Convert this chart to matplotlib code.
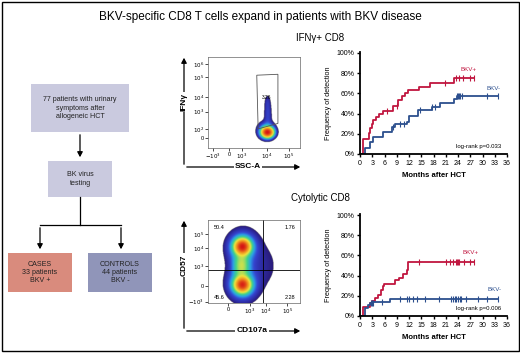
import numpy as np
import matplotlib
matplotlib.use('Agg')
import matplotlib.pyplot as plt
from matplotlib.patches import Rectangle, Polygon, FancyArrowPatch
from matplotlib.colors import LinearSegmentedColormap

plt.rcParams['font.family'] = ['Liberation Sans', 'DejaVu Sans']

W, H = 520, 353

# Kaplan-Meier data (months, cumulative % detected)
ifn_red_t = [0, 0.8, 2.2, 2.5, 2.9, 3.3, 3.9, 4.7, 5.6, 8.2, 9.2, 10.2, 11.0, 11.8, 14.5, 17.2, 23.1]
ifn_red_y = [0, 15, 21, 26, 30, 34, 37, 40, 43, 48, 53, 57, 60, 63, 66, 70.5, 75.5]
ifn_red_end = 27.8
ifn_red_cens = [6.6, 9.0, 20.8, 23.5, 24.3, 25.2, 27.0, 27.8]

ifn_blue_t = [0, 1.2, 2.45, 3.3, 5.7, 7.8, 8.6, 11.4, 12.1, 14.3, 17.6, 19.6, 23.1, 23.7]
ifn_blue_y = [0, 5.6, 12, 17, 22, 26.5, 30, 31.5, 38, 43.5, 47, 50, 54, 57]
ifn_blue_end = 33.7
ifn_blue_cens = [8.2, 9.8, 10.8, 14.8, 17.6, 18.4, 23.7, 24.0, 24.3, 24.6, 25.0, 31.0, 33.7]

cyt_red_t = [0, 0.65, 2.45, 2.9, 3.7, 4.5, 5.1, 5.6, 5.9, 8.6, 9.6, 10.5, 11.4, 11.85]
cyt_red_y = [0, 9, 12.5, 15, 17.5, 21, 26, 30, 32, 36, 38, 41.5, 45.5, 53]
cyt_red_end = 27.8
cyt_red_cens = [14.5, 21.0, 22.0, 22.8, 23.4, 23.7, 24.0, 24.3, 25.5, 27.0, 27.8]

cyt_blue_t = [0, 1.2, 2.0, 2.5, 3.3, 7.4]
cyt_blue_y = [0, 8, 11, 12.5, 14, 17]
cyt_blue_end = 33.7
cyt_blue_cens = [2.6, 2.9, 3.2, 5.5, 9.7, 11.5, 12.0, 13.0, 14.0, 15.8, 19.4, 22.4, 22.8,
                 23.2, 23.6, 24.0, 24.4, 24.8, 26.0, 28.8, 31.0, 33.7]

month_ticks = list(range(0, 37, 3))
pct_ticks = [0, 20, 40, 60, 80, 100]

# flow plot populations: (x, y, sx, sy, weight) in plot fractions
ifn_pops = [(0.64, 0.17, 0.035, 0.03, 1.0),
            (0.63, 0.19, 0.05, 0.05, 0.08),
            (0.645, 0.36, 0.025, 0.10, 0.02),
            (0.64, 0.50, 0.02, 0.05, 0.008)]
cyt_pops = [(0.37, 0.68, 0.045, 0.05, 1.0),
            (0.37, 0.22, 0.045, 0.05, 0.9),
            (0.37, 0.68, 0.08, 0.09, 0.12),
            (0.37, 0.22, 0.08, 0.09, 0.12),
            (0.36, 0.45, 0.05, 0.10, 0.18),
            (0.38, 0.45, 0.11, 0.24, 0.025),
            (0.62, 0.45, 0.12, 0.22, 0.007)]
ifn_xticks = [0.054, 0.228, 0.366, 0.638, 0.88]
ifn_xlabels = ['$-10^3$', '0', '$10^3$', '$10^4$', '$10^5$']
ifn_yticks = [0.107, 0.205, 0.399, 0.557, 0.777, 0.923]
ifn_ylabels = ['0', '$10^2$', '$10^3$', '$10^4$', '$10^5$', '$10^6$']
cyt_xticks = [0.221, 0.457, 0.63, 0.86]
cyt_xlabels = ['0', '$10^3$', '$10^4$', '$10^5$']
cyt_yticks = [0.016, 0.205, 0.446, 0.659, 0.828]
cyt_ylabels = ['$-10^3$', '0', '$10^3$', '$10^4$', '$10^5$']
quad_labels = ['50.4', '1.76', '45.6', '2.28']

RED = '#c0163f'
BLUE = '#2c4f8e'

fig = plt.figure(figsize=(W / 100, H / 100), dpi=100)

# overlay in pixel coords
ov = fig.add_axes([0, 0, 1, 1])
ov.set_xlim(0, W)
ov.set_ylim(H, 0)
ov.axis('off')
ov.add_patch(Rectangle((1.5, 1.5), W - 3, H - 4, fill=False, lw=1.0, ec='black'))
ov.text(260, 17, 'BKV-specific CD8 T cells expand in patients with BKV disease',
        ha='center', va='center', fontsize=8.5)
ov.text(320, 38, 'IFN\u03b3+ CD8', ha='center', va='center', fontsize=7)
ov.text(320, 198, 'Cytolytic CD8', ha='center', va='center', fontsize=7)

# flowchart
boxes = [(31, 84, 98, 48, '#cacadf', '77 patients with urinary\nsymptoms after\nallogeneic HCT'),
         (48, 161, 64, 36, '#cacadf', 'BK virus\ntesting'),
         (8, 253, 64, 39, '#d98b7d', 'CASES\n33 patients\nBKV +'),
         (88, 253, 64, 39, '#9095b9', 'CONTROLS\n44 patients\nBKV -')]
for x, y, w, h, c, s in boxes:
    ov.add_patch(Rectangle((x, y), w, h, fc=c, ec='none'))
    ov.text(x + w / 2, y + h / 2, s, ha='center', va='center', fontsize=5.1,
            color='#222222', linespacing=1.3)
arr = dict(arrowstyle='-|>,head_length=3,head_width=1.6', color='black', lw=0.9)
ov.add_patch(FancyArrowPatch((80, 132), (80, 160), **arr))
ov.plot([80, 80], [197, 225], color='black', lw=0.9)
ov.plot([40, 121], [225, 225], color='black', lw=0.9)
ov.add_patch(FancyArrowPatch((40, 225), (40, 252), **arr))
ov.add_patch(FancyArrowPatch((121, 225), (121, 252), **arr))

# flow axis arrows
for y0, ytop, ylab, xlab, ly, lx in [(167, 55, 'IFN\u03b3', 'SSC-A', 102, 248),
                                     (331, 218, 'CD57', 'CD107a', 265, 252)]:
    ov.add_patch(FancyArrowPatch((184, y0), (184, ytop), **arr))
    ov.add_patch(FancyArrowPatch((184, y0), (303, y0), **arr))
    ov.text(184, ly, ylab, rotation=90, ha='center', va='center', fontsize=6,
            family=['Liberation Sans Narrow', 'Liberation Sans'], fontweight='bold',
            bbox=dict(fc='white', ec='none', pad=1))
    ov.text(lx, y0, xlab, ha='center', va='center', fontsize=6,
            family=['Liberation Sans Narrow', 'Liberation Sans'], fontweight='bold',
            bbox=dict(fc='white', ec='none', pad=1))

cmap = LinearSegmentedColormap.from_list('flow', ['#2a1a78', '#2e2ea8', '#3545d0', '#2aa0e6',
                                                  '#40d38a', '#f2e43c', '#f08a1e', '#d41414'])


def px_axes(l, t, r, b):
    return fig.add_axes([l / W, 1 - b / H, (r - l) / W, (b - t) / H])


def flow_plot(ax, pops, xt, xl, yt, yl):
    g = np.linspace(0, 1, 300)
    X, Y = np.meshgrid(g, g)
    Z = np.zeros_like(X)
    for cx, cy, sx, sy, w in pops:
        Z += w * np.exp(-0.5 * ((X - cx) / sx) ** 2 - 0.5 * ((Y - cy) / sy) ** 2)
    Z = Z / Z.max()
    Z = np.ma.masked_less(Z, 0.005)
    ax.imshow(np.log10(Z), cmap=cmap, origin='lower', extent=[0, 1, 0, 1], vmin=-2.3, vmax=0,
              aspect='auto', interpolation='bilinear')
    ax.set_xlim(0, 1)
    ax.set_ylim(0, 1)
    ax.set_xticks(xt)
    ax.set_xticklabels(xl)
    ax.set_yticks(yt)
    ax.set_yticklabels(yl)
    ax.tick_params(labelsize=4, length=2, width=0.5, pad=1)
    for s in ax.spines.values():
        s.set_linewidth(0.5)
        s.set_color('#666666')


fa = px_axes(208, 57, 300, 148)
flow_plot(fa, ifn_pops, ifn_xticks, ifn_xlabels, ifn_yticks, ifn_ylabels)
fa.add_patch(Polygon([(0.53, 0.80), (0.76, 0.81), (0.76, 0.27), (0.545, 0.21)],
                     closed=True, fill=False, ec='#555555', lw=0.6))
fa.text(0.64, 0.56, '3.26', fontsize=3.5, ha='center', va='center')

fb = px_axes(208, 220, 300, 303)
flow_plot(fb, cyt_pops, cyt_xticks, cyt_xlabels, cyt_yticks, cyt_ylabels)
fb.axvline(0.60, color='black', lw=0.6)
fb.axhline(0.398, color='black', lw=0.6)
for (x, y, ha, va), s in zip([(0.06, 0.94, 'left', 'top'), (0.95, 0.94, 'right', 'top'),
                              (0.06, 0.04, 'left', 'bottom'), (0.95, 0.04, 'right', 'bottom')],
                             quad_labels):
    fb.text(x, y, s, fontsize=4, ha=ha, va=va)


def step_at(ts, ys, t):
    i = np.searchsorted(ts, t, side='right') - 1
    return ys[i]


def km_plot(ax, series, pval):
    for ts, ys, end, cens, c in series:
        tt = ts + [end]
        yy = ys + [ys[-1]]
        ax.step(tt, yy, where='post', color=c, lw=1.3)
        ax.plot(cens, [step_at(ts, ys, t) for t in cens], ls='none', marker='|',
                color=c, ms=4.5, mew=0.8)
    ax.set_xlim(0, 36)
    ax.set_ylim(0, 100)
    ax.set_xticks(month_ticks)
    ax.set_yticks(pct_ticks)
    ax.set_yticklabels([f'{p}%' for p in pct_ticks])
    ax.spines['top'].set_visible(False)
    ax.spines['right'].set_visible(False)
    ax.spines['left'].set_linewidth(1.3)
    ax.spines['bottom'].set_linewidth(1.3)
    ax.spines['left'].set_bounds(0, 101)
    ax.tick_params(labelsize=5, length=2.5, width=1, pad=1.5)
    ax.set_ylabel('Frequency of detection', fontsize=5.2,
                  family=['Liberation Sans Narrow', 'Liberation Sans'], labelpad=3)
    ax.set_xlabel('Months after HCT', fontsize=5.5, fontweight='bold',
                  family=['Liberation Sans Narrow', 'Liberation Sans'], labelpad=4)
    ax.text(34.5, 7, pval, fontsize=4.3, ha='right', va='center')


ka = px_axes(360, 53, 507, 154)
km_plot(ka, [(ifn_red_t, ifn_red_y, ifn_red_end, ifn_red_cens, RED),
             (ifn_blue_t, ifn_blue_y, ifn_blue_end, ifn_blue_cens, BLUE)], 'log-rank p=0.033')
ka.text(24.5, 82, 'BKV+', color=RED, fontsize=4.5, ha='left')
ka.text(31.0, 63, 'BKV-', color=BLUE, fontsize=4.5, ha='left')

kb = px_axes(360, 215, 507, 316)
km_plot(kb, [(cyt_red_t, cyt_red_y, cyt_red_end, cyt_red_cens, RED),
             (cyt_blue_t, cyt_blue_y, cyt_blue_end, cyt_blue_cens, BLUE)], 'log-rank p=0.006')
kb.text(25.0, 61, 'BKV+', color=RED, fontsize=4.5, ha='left')
kb.text(31.3, 25, 'BKV-', color=BLUE, fontsize=4.5, ha='left')

fig.savefig('out.png', dpi=100)
